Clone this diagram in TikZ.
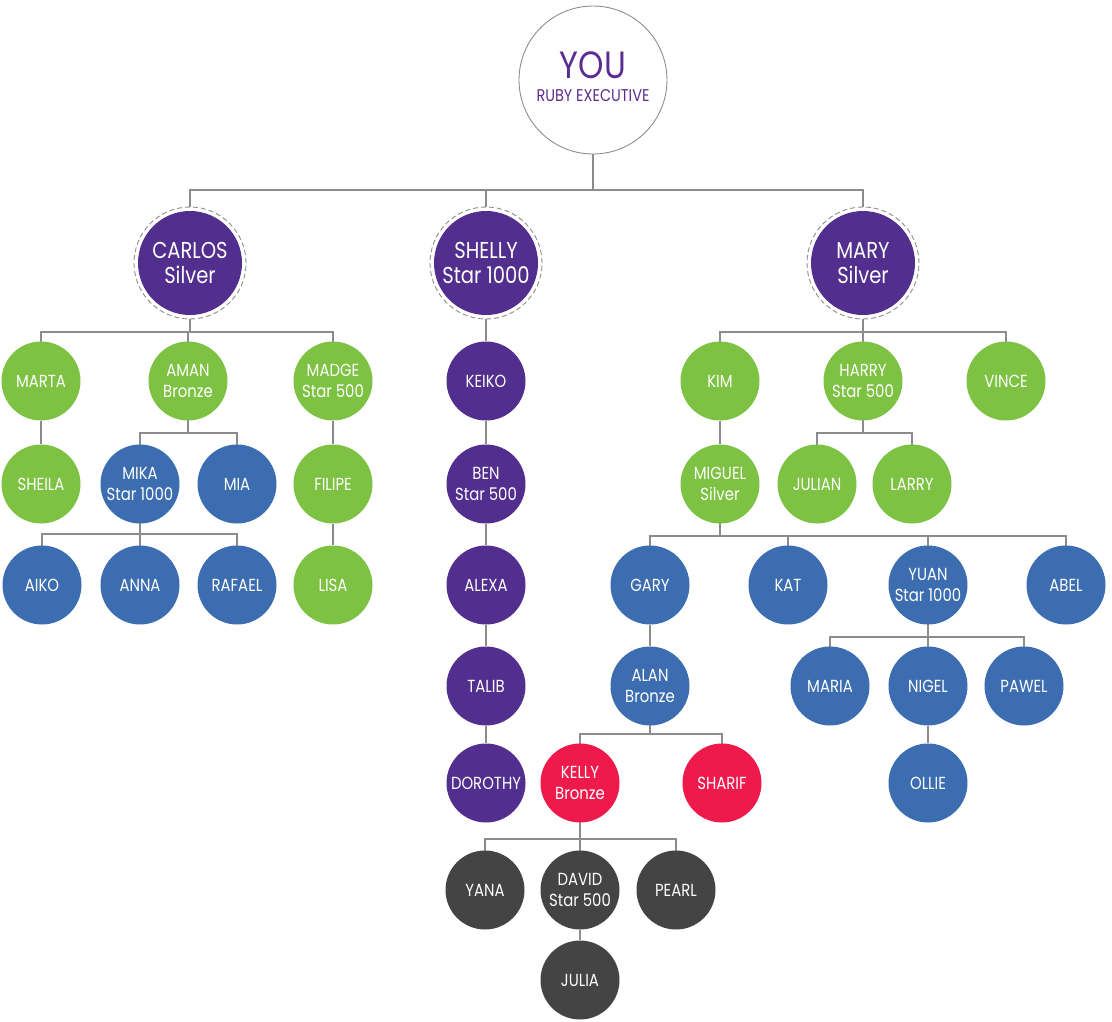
\documentclass[tikz,border=0pt]{standalone}
\usepackage{fontspec}
\setmainfont{Poppins}[FakeStretch=0.85]
\usetikzlibrary{backgrounds}
\definecolor{cgreen}{HTML}{7DC242}
\definecolor{cblue}{HTML}{3C6DB0}
\definecolor{cpurple}{HTML}{522E8E}
\definecolor{cred}{HTML}{EE1A4B}
\definecolor{cdark}{HTML}{444444}
\definecolor{cline}{HTML}{8C8C8C}
\definecolor{ctext}{HTML}{5B2D91}
\newcommand\mylink[3]{\draw[conn] (#1.center) -- (#1.center |- 0,#3) -| (#2.center);}
\begin{document}
\begin{tikzpicture}[x=1pt,y=-1pt,
  member/.style={circle,minimum size=79pt,inner sep=0pt,align=center,text=white,
    font=\fontsize{17.5}{20.5}\selectfont},
  green/.style={member,fill=cgreen},
  blue/.style={member,fill=cblue},
  purp/.style={member,fill=cpurple},
  redm/.style={member,fill=cred},
  dark/.style={member,fill=cdark},
  leader/.style={circle,minimum size=104pt,inner sep=0pt,align=center,text=white,fill=cpurple,
    font=\fontsize{23}{25}\selectfont},
  ring/.style={draw=cline,fill=white,dash pattern=on 5pt off 3pt,line width=0.9pt},
  conn/.style={draw=cline,line width=1.1pt},
]
\useasboundingbox (0,0) rectangle (1112,1021);

% top
\node[circle,draw=cline,fill=white,line width=0.9pt,minimum size=148pt,inner sep=0pt] (you) at (593,80) {};
\node[text=ctext,font=\fontsize{38}{40}\selectfont,inner sep=0pt] (youname) at (593,65) {YOU};
\node[text=ctext,font=\fontsize{17}{19}\selectfont,inner sep=0pt] (yourank) at (593,96) {RUBY EXECUTIVE};

% level 2
\node[leader] (carlos) at (190,263) {CARLOS\\Silver};
\node[leader] (shelly) at (486,263) {SHELLY\\Star 1000};
\node[leader] (mary) at (863,263) {MARY\\Silver};

% level 3
\node[green] (marta) at (41,381) {MARTA};
\node[green] (aman) at (188,381) {AMAN\\Bronze};
\node[green] (madge) at (333,381) {MADGE\\Star 500};
\node[purp] (keiko) at (486,381) {KEIKO};
\node[green] (kim) at (720,381) {KIM};
\node[green] (harry) at (863,381) {HARRY\\Star 500};
\node[green] (vince) at (1006,381) {VINCE};

% level 4
\node[green] (sheila) at (41,484) {SHEILA};
\node[blue] (mika) at (140,484) {MIKA\\Star 1000};
\node[blue] (mia) at (237,484) {MIA};
\node[green] (filipe) at (333,484) {FILIPE};
\node[purp] (ben) at (486,484) {BEN\\Star 500};
\node[green] (miguel) at (720,484) {MIGUEL\\Silver};
\node[green] (julian) at (817,484) {JULIAN};
\node[green] (larry) at (912,484) {LARRY};

% level 5
\node[blue] (aiko) at (42,585) {AIKO};
\node[blue] (anna) at (140,585) {ANNA};
\node[blue] (rafael) at (237,585) {RAFAEL};
\node[green] (lisa) at (333,585) {LISA};
\node[purp] (alexa) at (486,585) {ALEXA};
\node[blue] (gary) at (650,585) {GARY};
\node[blue] (kat) at (788,585) {KAT};
\node[blue] (yuan) at (928,585) {YUAN\\Star 1000};
\node[blue] (abel) at (1066,585) {ABEL};

% level 6
\node[purp] (talib) at (486,686) {TALIB};
\node[blue] (alan) at (650,686) {ALAN\\Bronze};
\node[blue] (maria) at (830,686) {MARIA};
\node[blue] (nigel) at (928,686) {NIGEL};
\node[blue] (pawel) at (1024,686) {PAWEL};

% level 7
\node[purp] (dorothy) at (486,783) {DOROTHY};
\node[redm] (kelly) at (580,783) {KELLY\\Bronze};
\node[redm] (sharif) at (722,783) {SHARIF};
\node[blue] (ollie) at (928,783) {OLLIE};

% level 8
\node[dark] (yana) at (485,890) {YANA};
\node[dark] (david) at (580,890) {DAVID\\Star 500};
\node[dark] (pearl) at (676,890) {PEARL};
\node[dark] (julia) at (580,980) {JULIA};

\begin{scope}[on background layer]
  \mylink{you}{carlos}{190}
  \mylink{you}{shelly}{190}
  \mylink{you}{mary}{190}
  \mylink{carlos}{marta}{332}
  \mylink{carlos}{aman}{332}
  \mylink{carlos}{madge}{332}
  \draw[conn] (shelly) -- (keiko);
  \mylink{mary}{kim}{332}
  \mylink{mary}{harry}{332}
  \mylink{mary}{vince}{332}
  \draw[conn] (marta) -- (sheila);
  \mylink{aman}{mika}{433}
  \mylink{aman}{mia}{433}
  \draw[conn] (madge) -- (filipe);
  \draw[conn] (keiko) -- (ben);
  \draw[conn] (kim) -- (miguel);
  \mylink{harry}{julian}{433}
  \mylink{harry}{larry}{433}
  \mylink{mika}{aiko}{534}
  \mylink{mika}{anna}{534}
  \mylink{mika}{rafael}{534}
  \draw[conn] (filipe) -- (lisa);
  \draw[conn] (ben) -- (alexa);
  \mylink{miguel}{gary}{536}
  \mylink{miguel}{kat}{536}
  \mylink{miguel}{yuan}{536}
  \mylink{miguel}{abel}{536}
  \draw[conn] (alexa) -- (talib);
  \draw[conn] (gary) -- (alan);
  \mylink{yuan}{maria}{637}
  \mylink{yuan}{nigel}{637}
  \mylink{yuan}{pawel}{637}
  \draw[conn] (talib) -- (dorothy);
  \mylink{alan}{kelly}{734}
  \mylink{alan}{sharif}{734}
  \draw[conn] (nigel) -- (ollie);
  \mylink{kelly}{yana}{839}
  \mylink{kelly}{david}{839}
  \mylink{kelly}{pearl}{839}
  \draw[conn] (david) -- (julia);
  \draw[ring] (carlos.center) circle (56pt);
  \draw[ring] (shelly.center) circle (56pt);
  \draw[ring] (mary.center) circle (56pt);
\end{scope}
\end{tikzpicture}
\end{document}
